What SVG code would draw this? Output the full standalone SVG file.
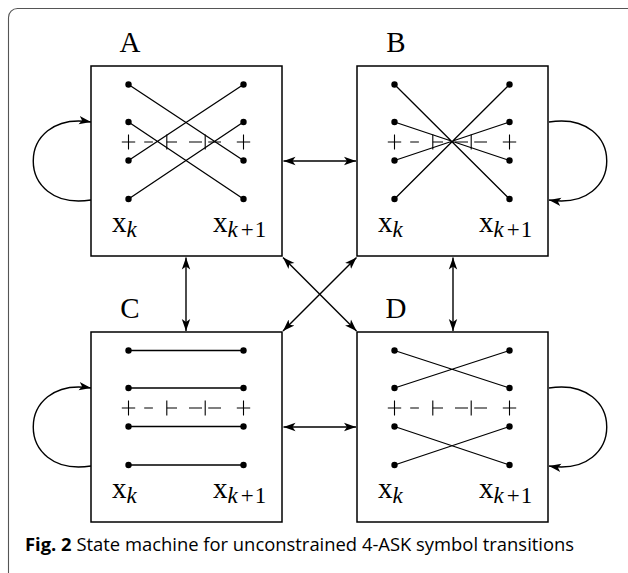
<svg xmlns="http://www.w3.org/2000/svg" xmlns:xlink="http://www.w3.org/1999/xlink" width="628" height="573" viewBox="0 0 628 573">
<style>
.box{fill:#fff;stroke:#000;stroke-width:1.5}
.ln{stroke:#000;stroke-width:1.3;fill:none}
.ax{stroke:#000;stroke-width:1.1;fill:none}
.conn{stroke:#000;stroke-width:1.4;fill:none}
.lbl{font-family:"Liberation Serif","Times New Roman",serif;font-size:29px;fill:#000}
.xl{font-family:"Liberation Serif","Times New Roman",serif;font-size:29px;fill:#000}
.sub{font-size:23px}
.it{font-style:italic}
.cap{font-family:"Open Sans","Noto Sans","Liberation Sans",sans-serif;font-size:18.4px;fill:#000}
</style>
<defs>
<marker id="ah" markerUnits="userSpaceOnUse" markerWidth="14" markerHeight="10" refX="12" refY="5" orient="auto-start-reverse" viewBox="0 0 14 10">
<path d="M0,0.8 L12,5 L0,9.2 L3,5 Z" fill="#000"/>
</marker>
<g id="axis" class="ax">
<path d="M-6.7,0H6.7M15.7,0H24.4M38.3,0H48.5M60.5,0H73.5M79.7,0H92.5M108.3,0H121.7"/>
<path d="M0,-7.5V7.5M38.3,-7.5V7.5M76.7,-7.5V7.5M115,-7.5V7.5"/>
</g>
<g id="dots" fill="#000">
<circle cx="0" cy="0" r="3.2"/><circle cx="0" cy="37.5" r="3.2"/><circle cx="0" cy="76" r="3.2"/><circle cx="0" cy="114.5" r="3.2"/>
<circle cx="115" cy="0" r="3.2"/><circle cx="115" cy="37.5" r="3.2"/><circle cx="115" cy="76" r="3.2"/><circle cx="115" cy="114.5" r="3.2"/>
</g>
</defs>
<rect x="8.5" y="8.5" width="700" height="700" rx="9" fill="none" stroke="#555" stroke-width="1.1"/>

<g id="connectors">
<line class="conn" x1="283.5" y1="161" x2="356" y2="161" marker-start="url(#ah)" marker-end="url(#ah)"/>
<line class="conn" x1="283.5" y1="427" x2="356" y2="427" marker-start="url(#ah)" marker-end="url(#ah)"/>
<line class="conn" x1="186" y1="257.5" x2="186" y2="331" marker-start="url(#ah)" marker-end="url(#ah)"/>
<line class="conn" x1="453" y1="257.5" x2="453" y2="331" marker-start="url(#ah)" marker-end="url(#ah)"/>
<line class="conn" x1="283" y1="257.5" x2="356.5" y2="331" marker-start="url(#ah)" marker-end="url(#ah)"/>
<line class="conn" x1="356.5" y1="257.5" x2="283" y2="331" marker-start="url(#ah)" marker-end="url(#ah)"/>
<path class="conn" d="M91,200 C14,212 14,110 91,122" marker-end="url(#ah)"/>
<path class="conn" d="M549,122 C626,110 626,212 549,200" marker-end="url(#ah)"/>
<path class="conn" d="M91,466 C14,478 14,376 91,388" marker-end="url(#ah)"/>
<path class="conn" d="M549,388 C626,376 626,478 549,466" marker-end="url(#ah)"/>
</g>

<g id="nodeA">
<text class="lbl" x="130" y="52" text-anchor="middle">A</text>
<rect class="box" x="91" y="66" width="191" height="190"/>
<use xlink:href="#axis" x="128.5" y="142"/>
<path class="ln" d="M128.5,84.5L243.5,160.5M243.5,84.5L128.5,160.5M128.5,122L243.5,199M243.5,122L128.5,199"/>
<use xlink:href="#dots" x="128.5" y="84.5"/>
<text class="xl" x="112" y="232">x<tspan class="sub it" dy="5">k</tspan></text>
<text class="xl" x="213" y="232">x<tspan class="sub it" dy="5">k</tspan><tspan class="sub" dx="3">+</tspan><tspan class="sub" dx="1">1</tspan></text>
</g>

<g id="nodeB">
<text class="lbl" x="396" y="52" text-anchor="middle">B</text>
<rect class="box" x="357" y="66" width="191" height="190"/>
<use xlink:href="#axis" x="394.5" y="142"/>
<path class="ln" d="M394.5,84.5L509.5,199M509.5,84.5L394.5,199M394.5,122L509.5,160.5M509.5,122L394.5,160.5"/>
<use xlink:href="#dots" x="394.5" y="84.5"/>
<text class="xl" x="378" y="232">x<tspan class="sub it" dy="5">k</tspan></text>
<text class="xl" x="479" y="232">x<tspan class="sub it" dy="5">k</tspan><tspan class="sub" dx="3">+</tspan><tspan class="sub" dx="1">1</tspan></text>
</g>

<g id="nodeC">
<text class="lbl" x="130" y="318" text-anchor="middle">C</text>
<rect class="box" x="91" y="332" width="191" height="190"/>
<use xlink:href="#axis" x="128.5" y="408"/>
<path class="ln" d="M128.5,350.5H243.5M128.5,388H243.5M128.5,426.5H243.5M128.5,465H243.5"/>
<use xlink:href="#dots" x="128.5" y="350.5"/>
<text class="xl" x="112" y="498">x<tspan class="sub it" dy="5">k</tspan></text>
<text class="xl" x="213" y="498">x<tspan class="sub it" dy="5">k</tspan><tspan class="sub" dx="3">+</tspan><tspan class="sub" dx="1">1</tspan></text>
</g>

<g id="nodeD">
<text class="lbl" x="396" y="318" text-anchor="middle">D</text>
<rect class="box" x="357" y="332" width="191" height="190"/>
<use xlink:href="#axis" x="394.5" y="408"/>
<path class="ln" d="M394.5,350.5L509.5,388M509.5,350.5L394.5,388M394.5,426.5L509.5,465M509.5,426.5L394.5,465"/>
<use xlink:href="#dots" x="394.5" y="350.5"/>
<text class="xl" x="378" y="498">x<tspan class="sub it" dy="5">k</tspan></text>
<text class="xl" x="479" y="498">x<tspan class="sub it" dy="5">k</tspan><tspan class="sub" dx="3">+</tspan><tspan class="sub" dx="1">1</tspan></text>
</g>

<text class="cap" x="25" y="551"><tspan font-weight="bold">Fig. 2</tspan> State machine for unconstrained 4-ASK symbol transitions</text>
</svg>
